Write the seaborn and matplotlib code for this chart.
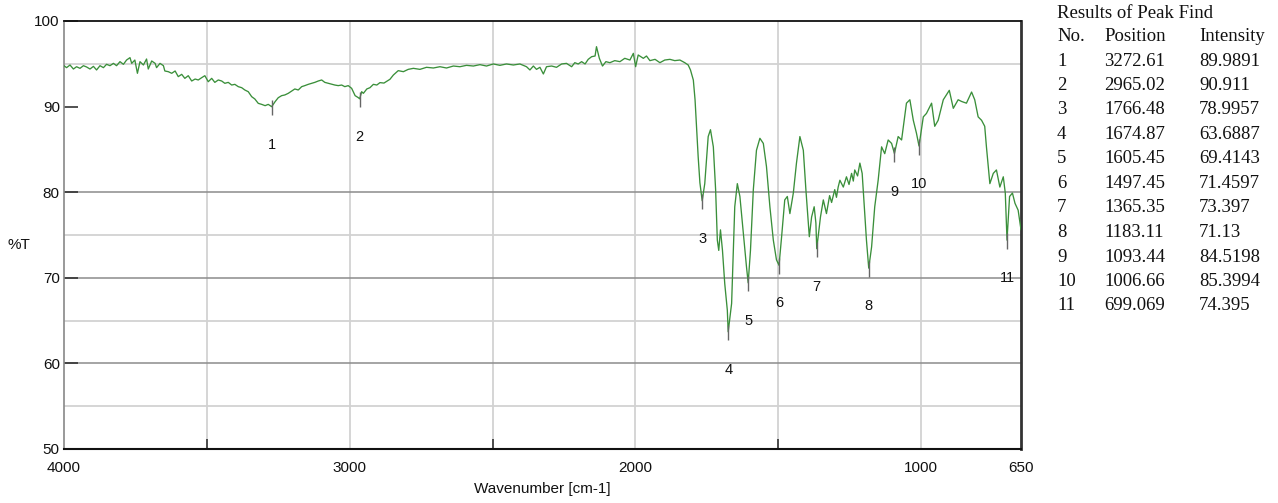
import matplotlib
matplotlib.use("Agg")
import matplotlib.pyplot as plt
import pandas as pd
import seaborn as sns

# ---- spectrum ----
wavenumber = [
    4000, 3991, 3979, 3967, 3956, 3944, 3932, 3921, 3909, 3897, 3886, 3874, 3862, 3851,
    3839, 3827, 3816, 3804, 3792, 3781, 3769, 3763, 3752, 3743, 3734, 3722, 3711, 3705,
    3693, 3681, 3676, 3664, 3652, 3647, 3635, 3623, 3611, 3600, 3588, 3577, 3565, 3553,
    3541, 3530, 3518, 3507, 3495, 3483, 3472, 3460, 3448, 3437, 3425, 3413, 3402, 3390,
    3378, 3367, 3355, 3343, 3332, 3320, 3308, 3296, 3285, 3273, 3261, 3250, 3238, 3227,
    3215, 3203, 3192, 3180, 3168, 3157, 3145, 3133, 3122, 3110, 3098, 3087, 3075, 3063,
    3052, 3040, 3028, 3017, 3005, 2993, 2981, 2970, 2965, 2958, 2952, 2940, 2929, 2917,
    2905, 2894, 2880, 2859, 2847, 2830, 2812, 2795, 2777, 2754, 2731, 2707, 2684, 2661,
    2637, 2614, 2591, 2567, 2544, 2521, 2497, 2474, 2451, 2427, 2404, 2381, 2369, 2357,
    2346, 2334, 2322, 2311, 2293, 2276, 2258, 2241, 2223, 2212, 2200, 2188, 2176, 2165,
    2153, 2141, 2136, 2126, 2115, 2103, 2089, 2072, 2054, 2037, 2019, 2007, 1999, 1990,
    1972, 1961, 1949, 1931, 1914, 1897, 1879, 1862, 1844, 1827, 1815, 1807, 1797, 1791,
    1786, 1780, 1774, 1766, 1757, 1745, 1737, 1727, 1719, 1713, 1708, 1702, 1695, 1687,
    1678, 1675, 1663, 1657, 1652, 1643, 1634, 1622, 1611, 1605, 1597, 1587, 1576, 1564,
    1552, 1541, 1529, 1517, 1506, 1497, 1488, 1477, 1468, 1459, 1447, 1436, 1424, 1412,
    1403, 1391, 1383, 1374, 1368, 1365, 1352, 1342, 1331, 1320, 1313, 1302, 1296, 1290,
    1284, 1272, 1261, 1252, 1243, 1237, 1232, 1222, 1214, 1206, 1200, 1191, 1183, 1173,
    1162, 1150, 1138, 1127, 1115, 1103, 1093, 1080, 1068, 1051, 1039, 1027, 1016, 1007,
    992, 981, 963, 952, 940, 922, 901, 887, 870, 858, 841, 823, 812, 800,
    788, 777, 771, 759, 747, 736, 724, 712, 705, 699, 690, 680, 671, 660,
    650,
]
transmittance = [
    94.78, 94.55, 94.86, 94.39, 94.66, 94.47, 94.78, 94.63, 94.39, 94.70, 94.28, 94.78, 94.55, 94.94,
    94.78, 95.05, 94.78, 95.25, 94.94, 95.44, 95.72, 95.05, 95.44, 93.89, 95.25, 94.86, 95.56, 94.39,
    95.33, 95.05, 94.55, 95.05, 94.78, 94.16, 94.08, 93.89, 94.16, 93.50, 93.77, 93.30, 93.61, 92.99,
    93.22, 93.11, 93.38, 93.61, 92.91, 93.30, 92.83, 93.11, 92.99, 92.72, 92.83, 92.52, 92.60, 92.33,
    92.21, 91.94, 91.74, 91.16, 90.89, 90.38, 90.26, 90.11, 90.26, 89.99, 90.58, 91.04, 91.28, 91.36,
    91.55, 91.82, 92.06, 91.94, 92.33, 92.45, 92.60, 92.72, 92.83, 92.99, 93.11, 92.83, 92.72, 92.60,
    92.52, 92.45, 92.52, 92.33, 92.45, 92.13, 91.28, 91.05, 90.91, 91.74, 91.55, 92.06, 92.21, 92.60,
    92.52, 92.80, 92.75, 93.19, 93.69, 94.20, 94.08, 94.35, 94.47, 94.35, 94.59, 94.51, 94.66, 94.51,
    94.74, 94.66, 94.82, 94.74, 94.90, 94.74, 94.98, 94.82, 94.98, 94.86, 94.98, 94.66, 94.28, 94.74,
    94.35, 94.59, 93.81, 94.66, 94.74, 94.59, 94.98, 95.05, 94.66, 95.13, 94.98, 95.25, 94.98, 95.52,
    95.83, 95.91, 97.00, 95.64, 94.74, 95.25, 95.13, 95.37, 95.25, 95.64, 95.44, 96.22, 94.66, 96.03,
    95.64, 95.91, 95.37, 95.52, 95.13, 95.44, 95.52, 95.37, 95.44, 95.13, 94.86, 94.28, 93.10, 90.80,
    87.70, 84.10, 81.10, 79.00, 81.00, 86.50, 87.30, 85.30, 80.30, 74.40, 73.20, 75.60, 73.20, 69.30,
    66.20, 63.69, 67.00, 73.20, 78.30, 81.00, 79.50, 75.20, 71.30, 69.41, 73.20, 80.30, 84.90, 86.30,
    85.70, 83.00, 78.30, 74.40, 72.10, 71.46, 74.80, 79.10, 79.50, 77.50, 79.90, 83.40, 86.50, 84.90,
    80.30, 74.80, 77.10, 78.30, 76.40, 73.40, 77.10, 79.10, 77.50, 79.60, 78.80, 80.30, 79.40, 80.60,
    81.40, 80.60, 81.80, 80.90, 82.20, 81.30, 82.60, 81.90, 83.40, 82.20, 79.10, 74.40, 71.13, 73.60,
    78.30, 81.40, 85.30, 84.50, 86.10, 85.70, 84.52, 86.50, 86.10, 90.40, 90.80, 88.40, 86.90, 85.40,
    88.80, 89.20, 90.40, 87.70, 88.40, 90.80, 91.90, 89.80, 90.80, 90.60, 90.40, 91.70, 90.80, 88.80,
    88.40, 87.70, 85.30, 81.00, 82.20, 82.60, 80.60, 81.80, 79.90, 74.40, 79.50, 79.90, 78.70, 77.90,
    75.60,
]

# ---- peak table ----
peak_no = [1, 2, 3, 4, 5, 6, 7, 8, 9, 10, 11]
peak_position = [3272.61, 2965.02, 1766.48, 1674.87, 1605.45, 1497.45,
                 1365.35, 1183.11, 1093.44, 1006.66, 699.069]
peak_intensity = [89.9891, 90.911, 78.9957, 63.6887, 69.4143, 71.4597,
                  73.397, 71.13, 84.5198, 85.3994, 74.395]

x_tick_values = [4000, 3000, 2000, 1000, 650]
x_minor_ticks = [3500, 2500, 1500]
y_tick_values = [50, 60, 70, 80, 90, 100]
grid_x = [3500, 3000, 2500, 2000, 1500, 1000]
grid_y_light = [95, 75, 65, 55]
grid_y_dark = [80, 70, 60]

sns.set_theme(style="white")
plt.rcParams['font.family'] = ['Liberation Sans', 'DejaVu Sans']

W, H = 1278, 503
fig = plt.figure(figsize=(W / 100, H / 100), dpi=100)
ax = fig.add_axes([64 / W, 1 - 449 / H, (1021 - 64) / W, (449 - 21) / H])

for v in grid_x:
    ax.axvline(v, color='#d2d2d2', lw=1.3, zorder=0)
for v in grid_y_light:
    ax.axhline(v, color='#d2d2d2', lw=1.3, zorder=0)
for v in grid_y_dark:
    ax.axhline(v, color='#8c8c8c', lw=1.1, zorder=0)

df = pd.DataFrame({'wn': wavenumber, 't': transmittance})
sns.lineplot(data=df, x='wn', y='t', sort=False, estimator=None,
             color='#3a8f3a', lw=0.95, ax=ax, zorder=3)

ax.set_xlim(4000, 650)
ax.set_ylim(50, 100)

ax.set_xticks(x_tick_values)
ax.set_xticklabels([str(v) for v in x_tick_values])
ax.set_xticks(x_minor_ticks, minor=True)
ax.set_yticks(y_tick_values)
ax.set_yticklabels([str(v) for v in y_tick_values])
ax.tick_params(axis='x', which='major', length=0, pad=9, labelsize=11, labelcolor='#111')
ax.tick_params(axis='x', which='minor', direction='in', length=7, width=1.2, color='#333', bottom=True)
ax.tick_params(axis='y', which='major', direction='in', length=10, width=1.2, color='#333',
               pad=3, labelsize=11, labelcolor='#111', left=True)

for side, col, lw in [('left', '#888888', 1.2), ('bottom', '#111111', 1.5),
                      ('top', '#111111', 1.3), ('right', '#333333', 2.0)]:
    ax.spines[side].set_visible(True)
    ax.spines[side].set_color(col)
    ax.spines[side].set_linewidth(lw)

ax.set_xlabel('Wavenumber [cm-1]', fontsize=11, labelpad=5, color='#111')
ax.set_ylabel('')
fig.text(8 / W, 1 - 245 / H, '%T', ha='left', va='center', fontsize=11, color='#111')

# peak markers and numbers
ax.vlines(peak_position, [v - 1.0 for v in peak_intensity], [v + 0.8 for v in peak_intensity],
          color='#666666', lw=1.0, zorder=4)
for n, p, v in zip(peak_no, peak_position, peak_intensity):
    ax.text(p, v - 4.45, str(n), ha='center', va='center', fontsize=10.5, color='#111', zorder=5)

# results table
serif = ['Liberation Serif', 'DejaVu Serif']
fs = 13.5
fig.text(1057 / W, 1 - 13 / H, 'Results of Peak Find', ha='left', va='center',
         fontsize=fs, family=serif, color='#111')
fig.text(1057 / W, 1 - 37 / H, 'No.', ha='left', va='center', fontsize=fs, family=serif, color='#111')
fig.text(1104 / W, 1 - 37 / H, 'Position', ha='left', va='center', fontsize=fs, family=serif, color='#111')
fig.text(1199 / W, 1 - 37 / H, 'Intensity', ha='left', va='center', fontsize=fs, family=serif, color='#111')
for i, (n, p, v) in enumerate(zip(peak_no, peak_position, peak_intensity)):
    y = 1 - (61 + 24.5 * i) / H
    fig.text(1057 / W, y, str(n), ha='left', va='center', fontsize=fs, family=serif, color='#111')
    fig.text(1104 / W, y, format(p, '.6g'), ha='left', va='center', fontsize=fs, family=serif, color='#111')
    fig.text(1199 / W, y, format(v, '.6g'), ha='left', va='center', fontsize=fs, family=serif, color='#111')

fig.savefig('out.png', dpi=100)
